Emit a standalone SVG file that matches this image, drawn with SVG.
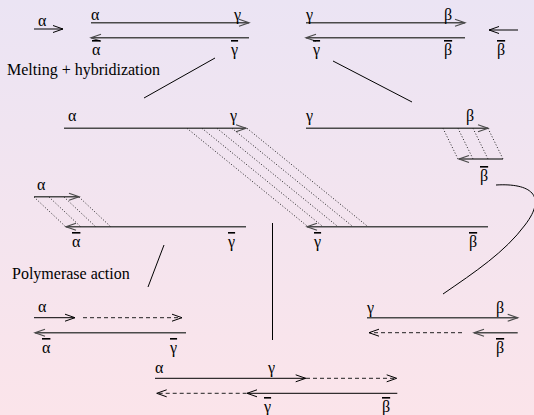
<svg xmlns="http://www.w3.org/2000/svg" width="534" height="415" viewBox="0 0 534 415">
<defs>
<linearGradient id="bg" x1="0" y1="0" x2="0" y2="1">
<stop offset="0" stop-color="#ebe4f4"/>
<stop offset="1" stop-color="#fbe4ea"/>
</linearGradient>
<marker id="ag" markerWidth="12" markerHeight="10" refX="10" refY="4" orient="auto" markerUnits="userSpaceOnUse" overflow="visible">
<path d="M0,0.5 L10,4 L0,7.5" fill="none" stroke="#4a4a4a" stroke-width="1.2"/>
</marker>
<marker id="ak" markerWidth="12" markerHeight="10" refX="10" refY="4" orient="auto" markerUnits="userSpaceOnUse" overflow="visible">
<path d="M0,0.5 L10,4 L0,7.5" fill="none" stroke="#000" stroke-width="1"/>
</marker>
</defs>
<style>
.s{stroke:#4a4a4a;stroke-width:1.5;fill:none;marker-end:url(#ag)}
.k{stroke:#000;stroke-width:1;fill:none;marker-end:url(#ak)}
.kn{stroke:#000;stroke-width:1;fill:none}
.d{stroke:#222;stroke-width:1;fill:none;stroke-dasharray:4 3;marker-end:url(#ak)}
.dot{stroke:#222;stroke-width:1;fill:none;stroke-dasharray:1 2}
text{font-family:"Liberation Serif","Times New Roman",serif;font-size:16px;fill:#000}
.o{text-decoration:overline}
</style>
<rect width="534" height="415" fill="url(#bg)"/>

<g id="primer-alpha-top">
<path class="k" d="M34,29 H63"/>
<text x="38" y="26">α</text>
</g>
<g id="primer-beta-top">
<path class="k" d="M518,30 H489"/>
<text class="o" x="497" y="55">β</text>
</g>

<g id="duplex-alpha-gamma">
<path class="s" d="M91,22.7 H249"/>
<path class="s" d="M249,37.7 H91"/>
<text x="91" y="20">α</text>
<text x="234" y="20">γ</text>
<text class="o" x="92" y="55">α</text>
<text class="o" x="231" y="55">γ</text>
</g>

<g id="duplex-gamma-beta">
<path class="s" d="M306,22.7 H465"/>
<path class="s" d="M465,37.7 H306"/>
<text x="306" y="20">γ</text>
<text x="444" y="20">β</text>
<text class="o" x="313" y="55">γ</text>
<text class="o" x="444" y="55">β</text>
</g>

<text x="7" y="75">Melting + hybridization</text>

<g id="hybrid-left">
<path class="s" d="M64,128.3 H246"/>
<text x="68" y="121">α</text>
<text x="230" y="121">γ</text>
<path class="s" d="M34,196.7 H79"/>
<text x="37" y="190">α</text>
<path class="s" d="M246,226.7 H66"/>
<text class="o" x="72" y="247">α</text>
<text class="o" x="228" y="247">γ</text>
<path class="dot" d="M34,197 L66,227 M49,197 L81,227 M64,197 L96,227 M79,197 L111,227"/>
<path class="dot" d="M187,128.3 L308,226.7 M202,128.3 L323,226.7 M217,128.3 L338,226.7 M232,128.3 L353,226.7 M247,128.3 L368,226.7"/>
</g>

<g id="hybrid-right">
<path class="s" d="M306,128.3 H488"/>
<text x="306" y="121">γ</text>
<text x="466" y="121">β</text>
<path class="s" d="M503,159 H459"/>
<text class="o" x="480" y="181">β</text>
<path class="dot" d="M443,128.3 L458,159 M458,128.3 L473,159 M473,128.3 L488,159 M488,128.3 L503,159"/>
<path class="s" d="M488,226.7 H307"/>
<text class="o" x="314" y="247">γ</text>
<text class="o" x="469" y="247">β</text>
</g>

<text x="12" y="279">Polymerase action</text>

<g id="extended-left">
<path class="k" d="M34,317.7 H75"/>
<path class="d" d="M83,317.7 H182"/>
<path class="s" d="M186,332.7 H35"/>
<text x="38" y="312">α</text>
<text class="o" x="42" y="353">α</text>
<text class="o" x="170" y="353">γ</text>
</g>

<g id="extended-right">
<path class="s" d="M367,317.7 H517.7"/>
<path class="d" d="M462,332.7 H369"/>
<path class="s" d="M517.7,332.7 H474"/>
<text x="367" y="313">γ</text>
<text x="496" y="313">β</text>
<text class="o" x="496" y="353">β</text>
</g>

<g id="extended-center">
<path class="k" d="M155,378.3 H305.7"/>
<path class="d" d="M306,378.3 H396.7"/>
<path class="d" d="M246.7,393.3 H156.7"/>
<path class="k" d="M397.3,393.3 H247"/>
<text x="155" y="373">α</text>
<text x="268" y="373">γ</text>
<text class="o" x="264" y="412">γ</text>
<text class="o" x="382" y="412">β</text>
</g>

<g id="connectors">
<path class="kn" d="M215,58 L144,98"/>
<path class="kn" d="M333,61 L412,102"/>
<path class="kn" d="M164,245 L148,287"/>
<path class="kn" d="M272.5,223 V340"/>
<path class="kn" d="M496,185 C530,183 548,195 525,225 C505,252 475,272 443,294"/>
</g>
</svg>
